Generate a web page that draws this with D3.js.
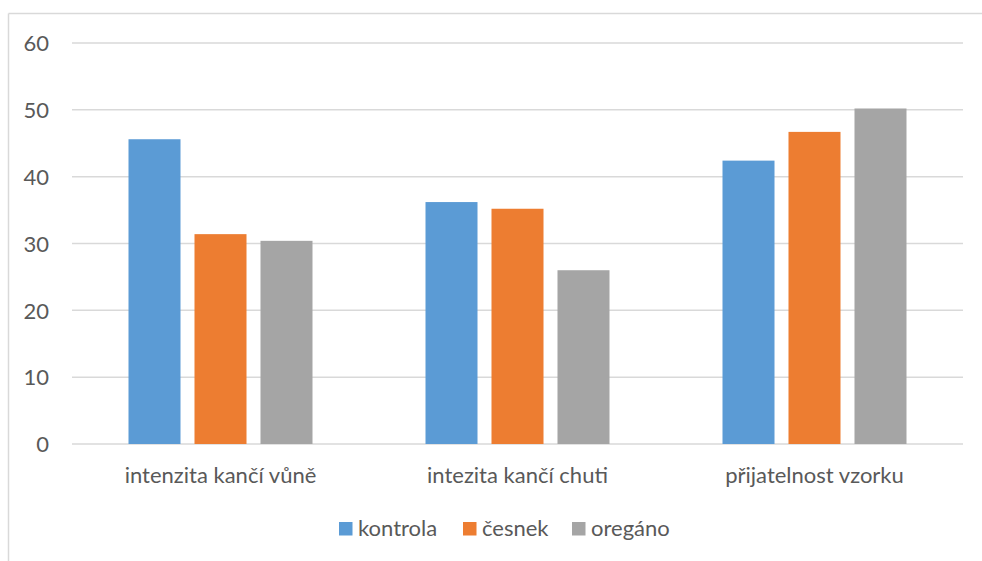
<!DOCTYPE html>
<html>
<head>
<meta charset="utf-8">
<script src="https://cdn.jsdelivr.net/npm/d3@7"></script>
<style>
  html, body { margin: 0; padding: 0; background: #fff; }
  svg { display: block; font-family: Lato, "Open Sans", sans-serif; }
</style>
</head>
<body>
<svg id="chart" width="982" height="561"></svg>
<script>
// Sensory evaluation scores per attribute and treatment
const categories = ["intenzita kančí vůně", "intezita kančí chuti", "přijatelnost vzorku"];
const series = ["kontrola", "česnek", "oregáno"];
const kontrola = [45.6, 36.2, 42.4];
const cesnek = [31.4, 35.2, 46.7];
const oregano = [30.4, 26.0, 50.2];
const yTicks = [0, 10, 20, 30, 40, 50, 60];
const colors = ["#5b9bd5", "#ed7d31", "#a5a5a5"];

const values = [kontrola, cesnek, oregano];
const rows = categories.map((c, i) => ({
  category: c,
  bars: series.map((s, j) => ({ series: s, value: values[j][i] }))
}));

const svg = d3.select("#chart");
const W = 982, H = 561;
const plot = { left: 72, right: 963, top: 43, bottom: 444 };
const FONT = "22px";

// Outer chart frame (top and left edges visible)
svg.append("line").attr("x1", 8.5).attr("x2", W).attr("y1", 13.5).attr("y2", 13.5)
  .attr("stroke", "#d9d9d9").attr("stroke-width", 1.5);
svg.append("line").attr("x1", 8.5).attr("x2", 8.5).attr("y1", 13.5).attr("y2", H)
  .attr("stroke", "#d9d9d9").attr("stroke-width", 1.5);

const y = d3.scaleLinear().domain([0, 60]).range([plot.bottom, plot.top]);
const x0 = d3.scaleBand().domain(categories).range([plot.left, plot.right]).padding(0);
const groupW = 184;
const x1 = d3.scaleBand().domain(series).range([0, groupW]).paddingInner(0.212).paddingOuter(0);

// Horizontal gridlines
svg.append("g").selectAll("line").data(yTicks).join("line")
  .attr("x1", plot.left).attr("x2", plot.right)
  .attr("y1", d => y(d)).attr("y2", d => y(d))
  .attr("stroke", "#d9d9d9").attr("stroke-width", 1.5);

// Y axis labels
const yAxis = d3.axisLeft(y).tickValues(yTicks).tickSize(0).tickPadding(0);
const gy = svg.append("g").attr("transform", "translate(49,0)").call(yAxis);
gy.select(".domain").remove();
gy.selectAll("text").attr("fill", "#595959").style("font-size", FONT)
  .style("font-family", "Lato, 'Open Sans', sans-serif").attr("dy", "0.35em");

// Bars
const groups = svg.append("g").selectAll("g").data(rows).join("g")
  .attr("transform", d => `translate(${x0(d.category) + (x0.bandwidth() - groupW) / 2},0)`);
groups.selectAll("rect").data(d => d.bars).join("rect")
  .attr("x", d => x1(d.series))
  .attr("width", x1.bandwidth())
  .attr("y", d => y(d.value))
  .attr("height", d => y(0) - y(d.value))
  .attr("fill", (d, i) => colors[i]);

// Category labels
const xAxis = d3.axisBottom(x0).tickSize(0).tickPadding(0);
const gx = svg.append("g").attr("transform", `translate(0,${plot.bottom})`).call(xAxis);
gx.select(".domain").remove();
gx.selectAll("text").attr("fill", "#595959").style("font-size", FONT)
  .style("font-family", "Lato, 'Open Sans', sans-serif").attr("y", 39).attr("dy", 0);

// Legend
const legendX = [339, 463, 572];
const legend = svg.append("g").selectAll("g").data(series).join("g")
  .attr("transform", (d, i) => `translate(${legendX[i]},522)`);
legend.append("rect").attr("width", 13.5).attr("height", 13.5).attr("fill", (d, i) => colors[i]);
legend.append("text").attr("x", 19).attr("y", 13.5).text(d => d)
  .attr("fill", "#595959").style("font-size", FONT);
</script>
</body>
</html>
